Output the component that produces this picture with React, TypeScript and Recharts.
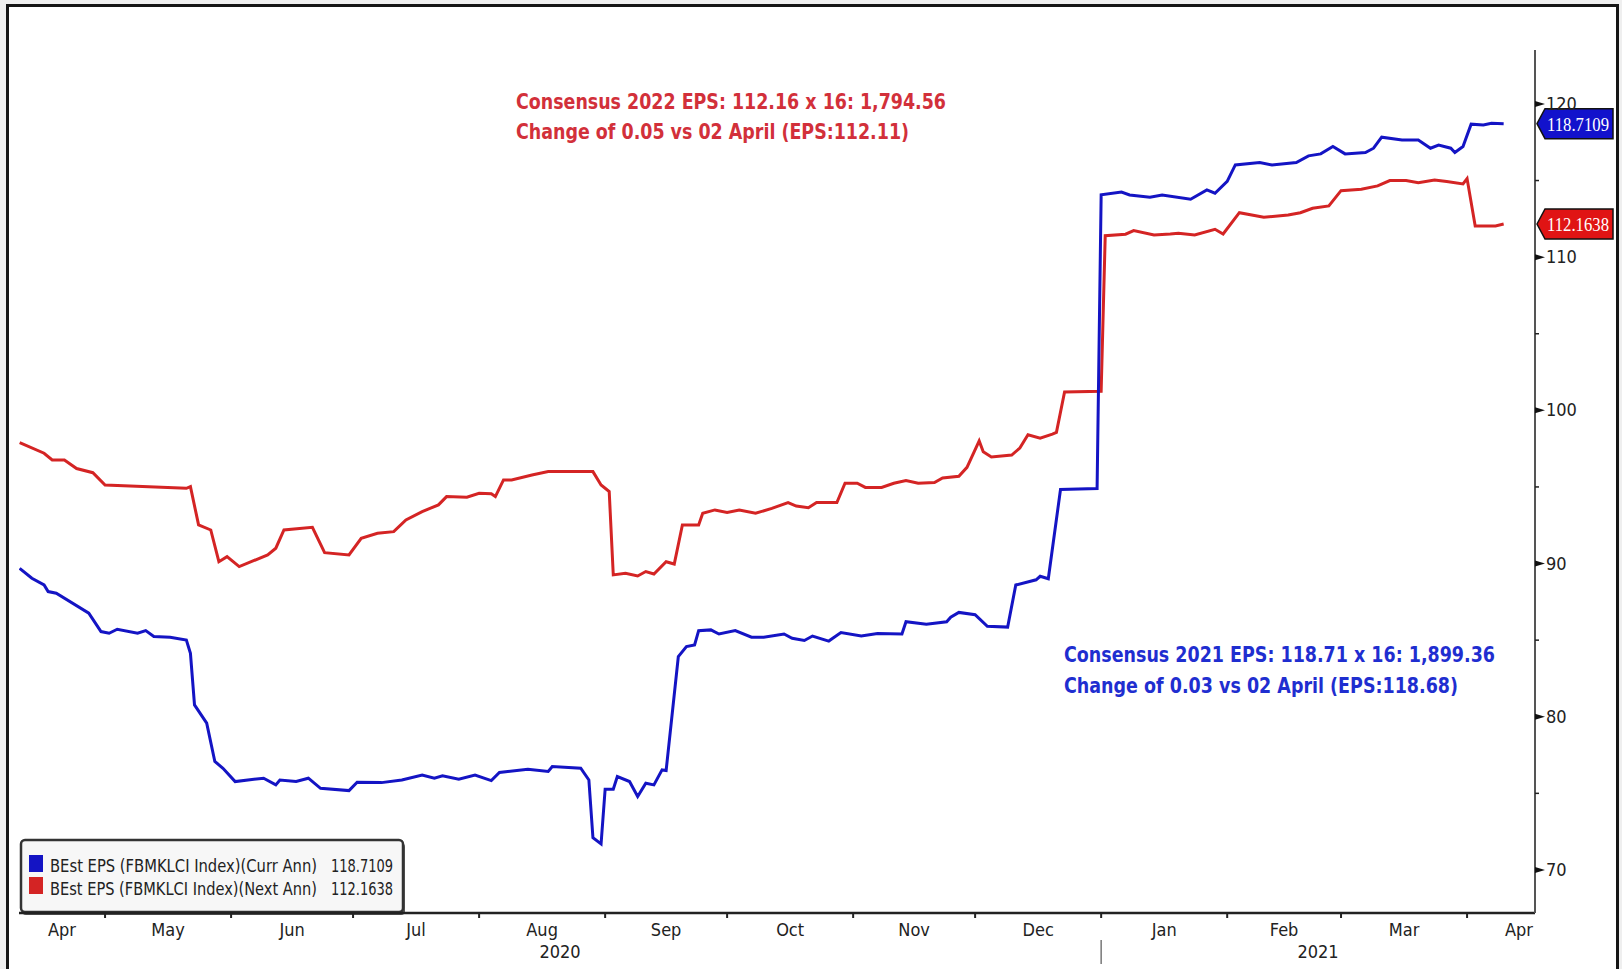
import React from 'react';
import { LineChart, Line, XAxis, YAxis, ReferenceDot, Customized } from 'recharts';

// ---------- data ----------
const currAnnDates = [
  '2020-04-10', '2020-04-13', '2020-04-16', '2020-04-17', '2020-04-19', '2020-04-27', '2020-04-30',
  '2020-05-02', '2020-05-04', '2020-05-09', '2020-05-11', '2020-05-13', '2020-05-17', '2020-05-21',
  '2020-05-22', '2020-05-23', '2020-05-26', '2020-05-28', '2020-05-30', '2020-06-02', '2020-06-09',
  '2020-06-12', '2020-06-13', '2020-06-17', '2020-06-20', '2020-06-23', '2020-06-30', '2020-07-02',
  '2020-07-08', '2020-07-13', '2020-07-18', '2020-07-21', '2020-07-23', '2020-07-27', '2020-07-31',
  '2020-08-04', '2020-08-06', '2020-08-13', '2020-08-18', '2020-08-19', '2020-08-26', '2020-08-28',
  '2020-08-29', '2020-08-31', '2020-09-01', '2020-09-03', '2020-09-04', '2020-09-07', '2020-09-09',
  '2020-09-11', '2020-09-13', '2020-09-15', '2020-09-16', '2020-09-19', '2020-09-21', '2020-09-23',
  '2020-09-24', '2020-09-27', '2020-09-29', '2020-10-03', '2020-10-07', '2020-10-10', '2020-10-15',
  '2020-10-17', '2020-10-20', '2020-10-22', '2020-10-26', '2020-10-29', '2020-11-03', '2020-11-07',
  '2020-11-13', '2020-11-14', '2020-11-19', '2020-11-24', '2020-11-25', '2020-11-27', '2020-12-01',
  '2020-12-04', '2020-12-09', '2020-12-11', '2020-12-16', '2020-12-17', '2020-12-19', '2020-12-22',
  '2020-12-31', '2021-01-01', '2021-01-06', '2021-01-08', '2021-01-13', '2021-01-16', '2021-01-23',
  '2021-01-27', '2021-01-29', '2021-02-01', '2021-02-03', '2021-02-09', '2021-02-12', '2021-02-18',
  '2021-02-21', '2021-02-24', '2021-02-27', '2021-03-02', '2021-03-07', '2021-03-09', '2021-03-11',
  '2021-03-16', '2021-03-20', '2021-03-23', '2021-03-25', '2021-03-28', '2021-03-29', '2021-03-31',
  '2021-04-02', '2021-04-05', '2021-04-07', '2021-04-10',
];
const currAnnValues = [
  89.69, 89.04, 88.6, 88.17, 88.06, 86.76, 85.56,
  85.45, 85.71, 85.45, 85.62, 85.24, 85.19, 85.01,
  84.14, 80.77, 79.58, 77.08, 76.64, 75.77, 75.99,
  75.55, 75.87, 75.77, 75.99, 75.33, 75.18, 75.72,
  75.7, 75.87, 76.2, 75.99, 76.14, 75.92, 76.2,
  75.83, 76.36, 76.58, 76.43, 76.75, 76.64, 75.87,
  72.1, 71.7, 75.27, 75.27, 76.1, 75.77, 74.79,
  75.66, 75.55, 76.53, 76.49, 83.93, 84.58, 84.69,
  85.62, 85.67, 85.4, 85.62, 85.19, 85.19, 85.4,
  85.12, 84.98, 85.27, 84.94, 85.5, 85.27, 85.44,
  85.4, 86.2, 86.04, 86.2, 86.5, 86.81, 86.66,
  85.9, 85.85, 88.6, 88.94, 89.17, 89.01, 94.83,
  94.9, 114.07, 114.25, 114.06, 113.91, 114.06, 113.78,
  114.39, 114.17, 114.94, 116.02, 116.17, 116.02, 116.17,
  116.61, 116.74, 117.22, 116.74, 116.83, 117.11, 117.83,
  117.65, 117.65, 117.11, 117.32, 117.11, 116.83, 117.22,
  118.68, 118.63, 118.74, 118.7109,
];

const nextAnnDates = [
  '2020-04-10', '2020-04-16', '2020-04-18', '2020-04-21', '2020-04-24', '2020-04-28', '2020-05-01',
  '2020-05-21', '2020-05-22', '2020-05-24', '2020-05-27', '2020-05-29', '2020-05-31', '2020-06-03',
  '2020-06-10', '2020-06-12', '2020-06-14', '2020-06-21', '2020-06-24', '2020-06-30', '2020-07-03',
  '2020-07-07', '2020-07-11', '2020-07-14', '2020-07-18', '2020-07-22', '2020-07-24', '2020-07-29',
  '2020-08-01', '2020-08-04', '2020-08-05', '2020-08-07', '2020-08-09', '2020-08-14', '2020-08-18',
  '2020-08-29', '2020-08-31', '2020-09-02', '2020-09-03', '2020-09-06', '2020-09-09', '2020-09-11',
  '2020-09-13', '2020-09-16', '2020-09-18', '2020-09-20', '2020-09-24', '2020-09-25', '2020-09-28',
  '2020-10-01', '2020-10-04', '2020-10-08', '2020-10-12', '2020-10-16', '2020-10-18', '2020-10-21',
  '2020-10-23', '2020-10-28', '2020-10-30', '2020-11-02', '2020-11-04', '2020-11-08', '2020-11-11',
  '2020-11-14', '2020-11-17', '2020-11-21', '2020-11-23', '2020-11-27', '2020-11-29', '2020-12-02',
  '2020-12-03', '2020-12-05', '2020-12-10', '2020-12-12', '2020-12-14', '2020-12-17', '2020-12-20',
  '2020-12-21', '2020-12-23', '2021-01-01', '2021-01-02', '2021-01-07', '2021-01-09', '2021-01-14',
  '2021-01-18', '2021-01-20', '2021-01-24', '2021-01-29', '2021-01-31', '2021-02-04', '2021-02-10',
  '2021-02-16', '2021-02-19', '2021-02-22', '2021-02-26', '2021-03-01', '2021-03-06', '2021-03-10',
  '2021-03-13', '2021-03-17', '2021-03-20', '2021-03-24', '2021-03-27', '2021-03-31', '2021-04-01',
  '2021-04-03', '2021-04-08', '2021-04-10',
];
const nextAnnValues = [
  97.9, 97.2, 96.76, 96.76, 96.2, 95.93, 95.13,
  94.91, 95.02, 92.52, 92.19, 90.12, 90.45, 89.8,
  90.56, 91.0, 92.19, 92.37, 90.71, 90.56, 91.65,
  91.98, 92.08, 92.85, 93.39, 93.83, 94.37, 94.33,
  94.59, 94.55, 94.37, 95.46, 95.46, 95.78, 96.0,
  96.0, 95.13, 94.7, 89.26, 89.37, 89.19, 89.48,
  89.32, 90.12, 89.97, 92.52, 92.52, 93.28, 93.5,
  93.33, 93.5, 93.28, 93.6, 93.98, 93.75, 93.64,
  93.98, 93.98, 95.24, 95.24, 94.97, 94.97, 95.24,
  95.42, 95.24, 95.29, 95.58, 95.7, 96.28, 98.0,
  97.3, 96.96, 97.08, 97.54, 98.41, 98.18, 98.45,
  98.56, 101.2, 101.25, 111.4, 111.5, 111.73, 111.45,
  111.51, 111.56, 111.45, 111.82, 111.51, 112.9, 112.6,
  112.75, 112.9, 113.19, 113.34, 114.34, 114.43, 114.65,
  115.0, 115.0, 114.86, 115.04, 114.93, 114.78, 115.13,
  112.04, 112.04, 112.1638,
];

const seriesNames = ['BEst EPS (FBMKLCI Index)(Curr Ann)', 'BEst EPS (FBMKLCI Index)(Next Ann)'];
const seriesLast = ['118.7109', '112.1638'];

const monthStarts = [
  '2020-05-01', '2020-06-01', '2020-07-01', '2020-08-01', '2020-09-01', '2020-10-01',
  '2020-11-01', '2020-12-01', '2021-01-01', '2021-02-01', '2021-03-01', '2021-04-01',
];
const monthLabels = ['Apr', 'May', 'Jun', 'Jul', 'Aug', 'Sep', 'Oct', 'Nov', 'Dec', 'Jan', 'Feb', 'Mar', 'Apr'];
const yearLabels = ['2020', '2021'];
const yearBoundary = '2021-01-01';
const yMajorTicks = [70, 80, 90, 100, 110, 120];
const yMinorTicks = [75, 85, 95, 105, 115];

const annotation2022 = ['Consensus 2022 EPS: 112.16 x 16: 1,794.56', 'Change of 0.05 vs 02 April (EPS:112.11)'];
const annotation2021 = ['Consensus 2021 EPS: 118.71 x 16: 1,899.36', 'Change of 0.03 vs 02 April (EPS:118.68)'];

// ---------- layout / style ----------
const W = 1622;
const H = 969;
const PLOT_LEFT = 19;
const PLOT_RIGHT = 1535;
const PLOT_TOP = 50;
const PLOT_BOTTOM = 913;
const DOMAIN_START = Date.UTC(2020, 3, 9, 20);
const DOMAIN_END = Date.UTC(2021, 3, 17, 17);
const Y_DOMAIN: [number, number] = [67.19, 123.52];

const BLUE = '#1414c4';
const RED = '#d42424';
const BLUE_TEXT = '#1f2ed0';
const RED_TEXT = '#d2303a';
const NARROW = "'Liberation Sans Narrow', 'Arial Narrow', 'DejaVu Sans Condensed', sans-serif";
const COND = "'DejaVu Sans Condensed', 'Liberation Sans Narrow', sans-serif";
const SERIF = "'Liberation Serif', 'DejaVu Serif', serif";

const ts = (s: string) => Date.parse(s + 'T00:00:00Z');

const currData = currAnnDates.map((d, i) => ({ t: ts(d), v: currAnnValues[i] }));
const nextData = nextAnnDates.map((d, i) => ({ t: ts(d), v: nextAnnValues[i] }));

// tick metadata
type TickInfo = { kind: 'mark' | 'month' | 'year'; text?: string; anchor?: string; sep?: boolean };
const tickInfo = new Map<number, TickInfo>();
const boundaries = [DOMAIN_START, ...monthStarts.map(ts), DOMAIN_END];
monthStarts.forEach((m) => tickInfo.set(ts(m), { kind: 'mark', sep: m === yearBoundary }));
monthLabels.forEach((lab, i) => {
  const last = i === monthLabels.length - 1;
  const v = last ? boundaries[i + 1] : (boundaries[i] + boundaries[i + 1]) / 2;
  tickInfo.set(v, { kind: 'month', text: lab, anchor: last ? 'end' : 'middle' });
});
const yb = ts(yearBoundary);
tickInfo.set((DOMAIN_START + yb) / 2 + 1, { kind: 'year', text: yearLabels[0] });
tickInfo.set((yb + DOMAIN_END) / 2 + 1, { kind: 'year', text: yearLabels[1] });
const xTicks = Array.from(tickInfo.keys()).sort((a, b) => a - b);

const XTick = (props: any) => {
  const { x, payload } = props;
  const info = tickInfo.get(payload.value);
  if (!info) return null;
  if (info.kind === 'mark') {
    return (
      <g>
        <line x1={x} x2={x} y1={PLOT_BOTTOM} y2={PLOT_BOTTOM + 5} stroke="#222" strokeWidth={2} />
        {info.sep && <line x1={x} x2={x} y1={940} y2={964} stroke="#777" strokeWidth={1.5} />}
      </g>
    );
  }
  if (info.kind === 'month') {
    return (
      <text x={info.anchor === 'end' ? x - 2 : x} y={936} textAnchor={info.anchor} fontSize={18} fontFamily={NARROW} fill="#222">
        {info.text}
      </text>
    );
  }
  return (
    <text x={x} y={958} textAnchor="middle" fontSize={18} fontFamily={NARROW} fill="#222">
      {info.text}
    </text>
  );
};

const YTick = (props: any) => {
  const { y, payload } = props;
  const v = payload.value;
  if (!yMajorTicks.includes(v)) {
    return <line x1={PLOT_RIGHT} x2={PLOT_RIGHT + 4} y1={y} y2={y} stroke="#222" strokeWidth={1.5} />;
  }
  return (
    <g>
      <polygon points={`${PLOT_RIGHT},${y - 3} ${PLOT_RIGHT + 10},${y} ${PLOT_RIGHT},${y + 3}`} fill="#111" />
      <text x={PLOT_RIGHT + 11} y={y + 6} fontSize={18} fontFamily={NARROW} fill="#222">
        {v}
      </text>
    </g>
  );
};

const makeTag = (fill: string, label: string) => (props: any) => {
  const cy = props.cy;
  const x0 = PLOT_RIGHT + 2;
  const pts = `${x0},${cy} ${x0 + 8},${cy - 15} ${x0 + 76},${cy - 15} ${x0 + 76},${cy + 15} ${x0 + 8},${cy + 15}`;
  return (
    <g>
      <polygon points={pts} fill={fill} stroke="#111" strokeWidth={1.5} />
      <text x={x0 + 10} y={cy + 7} fontSize={19} fontFamily={SERIF} fill="#fff" textLength={62} lengthAdjust="spacingAndGlyphs">
        {label}
      </text>
    </g>
  );
};

const Annotations = () => (
  <g fontFamily={NARROW} fontWeight="bold" fontSize={22}>
    <text x={516} y={109} fill={RED_TEXT} textLength={430} lengthAdjust="spacingAndGlyphs">{annotation2022[0]}</text>
    <text x={516} y={139} fill={RED_TEXT} textLength={393} lengthAdjust="spacingAndGlyphs">{annotation2022[1]}</text>
    <text x={1064} y={662} fill={BLUE_TEXT} textLength={431} lengthAdjust="spacingAndGlyphs">{annotation2021[0]}</text>
    <text x={1064} y={693} fill={BLUE_TEXT} textLength={394} lengthAdjust="spacingAndGlyphs">{annotation2021[1]}</text>
  </g>
);

const LegendBox = () => {
  const colors = [BLUE, RED];
  const lx = 20;
  const ly = 839;
  return (
    <g>
      <rect x={lx + 2} y={ly + 4} width={383} height={72} rx={4} fill="#555" />
      <rect x={lx + 1} y={ly + 1} width={382} height={72} rx={4} fill="#f7f7f7" stroke="#333" strokeWidth={2.5} />
      {seriesNames.map((n, i) => (
        <g key={n}>
          <rect x={lx + 9} y={ly + 16 + i * 22} width={14} height={17} fill={colors[i]} />
          <text x={lx + 30} y={ly + 33 + i * 23} fontSize={17} fontFamily={COND} fill="#222" textLength={267} lengthAdjust="spacingAndGlyphs">
            {n}
          </text>
          <text x={lx + 311} y={ly + 33 + i * 23} fontSize={17} fontFamily={COND} fill="#222" textLength={62} lengthAdjust="spacingAndGlyphs">
            {seriesLast[i]}
          </text>
        </g>
      ))}
    </g>
  );
};

export default function App() {
  const lastCurr = currData[currData.length - 1];
  const lastNext = nextData[nextData.length - 1];
  return (
    <div style={{ position: 'fixed', left: 0, top: 0, width: W, height: H, background: '#efefef', overflow: 'hidden' }}>
      <div
        style={{
          position: 'absolute',
          left: 6,
          top: 4,
          width: 1613,
          height: 1000,
          boxSizing: 'border-box',
          border: '3px solid #151515',
          background: '#fff',
        }}
      />
      <div style={{ position: 'absolute', left: 0, top: 0 }}>
        <LineChart width={W} height={H} margin={{ top: PLOT_TOP, right: 0, bottom: 0, left: PLOT_LEFT }}>
          <XAxis
            dataKey="t"
            type="number"
            domain={[DOMAIN_START, DOMAIN_END]}
            allowDataOverflow
            ticks={xTicks}
            interval={0}
            tickLine={false}
            tick={<XTick />}
            height={H - PLOT_BOTTOM}
            axisLine={{ stroke: '#222', strokeWidth: 2.5 }}
          />
          <YAxis
            orientation="right"
            type="number"
            domain={Y_DOMAIN}
            allowDataOverflow
            ticks={[...yMajorTicks, ...yMinorTicks].sort((a, b) => a - b)}
            interval={0}
            tickLine={false}
            tick={<YTick />}
            width={W - PLOT_RIGHT}
            axisLine={{ stroke: '#555', strokeWidth: 2 }}
          />
          <Line data={nextData} dataKey="v" name={seriesNames[1]} stroke={RED} strokeWidth={3} dot={false} isAnimationActive={false} />
          <Line data={currData} dataKey="v" name={seriesNames[0]} stroke={BLUE} strokeWidth={3} dot={false} isAnimationActive={false} />
          <ReferenceDot x={lastCurr.t} y={lastCurr.v} r={0} ifOverflow="visible" shape={makeTag('#1212cc', seriesLast[0])} />
          <ReferenceDot x={lastNext.t} y={lastNext.v} r={0} ifOverflow="visible" shape={makeTag('#e01414', seriesLast[1])} />
          <Customized component={<Annotations />} />
          <Customized component={<LegendBox />} />
        </LineChart>
      </div>
    </div>
  );
}
